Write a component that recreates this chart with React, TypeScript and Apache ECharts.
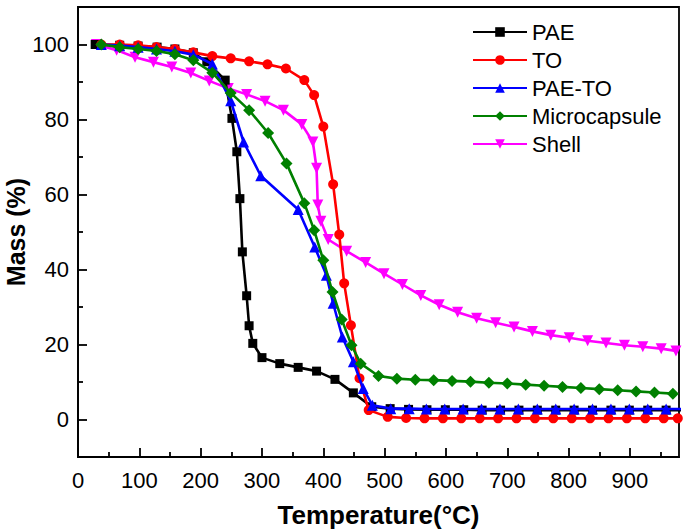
import React, { useEffect, useRef } from "react";
import * as echarts from "echarts";

// ---- data ----
const seriesNames = ["PAE", "TO", "PAE-TO", "Microcapsule", "Shell"];

const paeT = [28, 68, 98, 129, 158, 188, 210, 240, 251, 259, 264, 268, 275, 279, 285, 300, 329, 359, 389, 419, 449, 479, 509, 539, 569, 599, 629, 659, 689, 719, 749, 779, 809, 839, 869, 899, 929, 959, 989];
const paeM = [100, 99.8, 99.6, 99.3, 98.8, 97.8, 95.4, 90.5, 80.3, 71.4, 58.9, 44.7, 33, 25, 20.3, 16.5, 14.9, 13.9, 12.9, 10.7, 7.1, 3.4, 2.9, 2.7, 2.6, 2.6, 2.6, 2.5, 2.5, 2.5, 2.5, 2.5, 2.5, 2.5, 2.5, 2.5, 2.5, 2.5, 2.5];

const toT = [38, 68, 98, 128, 158, 188, 219, 249, 279, 309, 339, 369, 385, 400, 416, 426, 434, 445, 459, 474, 505, 535, 565, 595, 625, 655, 685, 715, 745, 775, 805, 835, 865, 895, 925, 955, 978];
const toM = [100, 100, 99.8, 99.3, 98.8, 97.9, 96.9, 96.3, 95.5, 94.7, 93.6, 90.5, 86.5, 78.1, 62.7, 49.3, 36.3, 25.1, 11, 2.5, 0.7, 0.4, 0.3, 0.3, 0.3, 0.3, 0.3, 0.3, 0.3, 0.3, 0.3, 0.3, 0.3, 0.3, 0.3, 0.3, 0.3];

const paeToT = [38, 68, 98, 128, 158, 188, 219, 249, 270, 298, 359, 386, 405, 416, 431, 449, 465, 480, 510, 540, 568, 598, 628, 658, 688, 718, 749, 779, 809, 839, 869, 899, 929, 959, 989];
const paeToM = [100, 99.7, 99.3, 98.8, 98.2, 97.3, 94.8, 85, 74, 65, 56, 46, 38.5, 31, 22, 15.4, 8.3, 3.8, 2.9, 2.9, 2.8, 2.8, 2.8, 2.8, 2.8, 2.8, 2.8, 2.8, 2.8, 2.8, 2.8, 2.8, 2.8, 2.8, 2.8];

const microT = [38, 68, 98, 128, 158, 188, 219, 249, 279, 310, 340, 369, 385, 400, 415, 430, 446, 461, 490, 520, 550, 580, 610, 640, 670, 700, 730, 760, 790, 820, 850, 880, 910, 940, 970];
const microM = [100, 99.3, 98.8, 98.3, 97.4, 95.8, 92.5, 87.1, 82.5, 76.4, 68.3, 57.7, 50.5, 42.5, 34, 26.7, 19.8, 14.9, 11.6, 10.9, 10.6, 10.5, 10.3, 10.1, 9.8, 9.6, 9.3, 9.0, 8.7, 8.4, 8.1, 7.8, 7.5, 7.2, 6.9];

const shellT = [30, 63, 93, 123, 153, 184, 214, 245, 275, 305, 335, 365, 383, 389, 391, 396, 408, 438, 469, 499, 529, 559, 589, 619, 650, 681, 711, 741, 771, 801, 831, 861, 891, 921, 951, 975];
const shellM = [100, 98.5, 96.6, 95.3, 94, 92.4, 90.3, 88.3, 86.7, 84.9, 82.5, 78.7, 74, 67, 57.2, 52.9, 48, 44.9, 41.9, 38.9, 36, 33.1, 30.6, 28.6, 27, 25.8, 24.7, 23.5, 22.5, 21.8, 21, 20.4, 19.8, 19.4, 18.9, 18.3];

const xMajorTicks = [0, 100, 200, 300, 400, 500, 600, 700, 800, 900];
const xMinorTicks = [50, 150, 250, 350, 450, 550, 650, 750, 850, 950];
const yMajorTicks = [0, 20, 40, 60, 80, 100];
const yMinorTicks = [10, 30, 50, 70, 90];

const FONT = "'Liberation Sans', Arial, sans-serif";
const downTriangle = "path://M0,0L10,0L5,9Z";

function pairs(t: number[], m: number[]) {
  return t.map((v, i) => [v, m[i]]);
}

export default function App() {
  const ref = useRef<HTMLDivElement>(null);
  useEffect(() => {
    const chart = echarts.init(ref.current!, null, { renderer: "svg" });
    const axisLine = { show: true, onZero: false, lineStyle: { color: "#000", width: 1.8 } };
    const line = (name: string, color: string, symbol: string, size: number, data: number[][], z: number) => ({
      name,
      type: "line",
      data,
      symbol,
      symbolSize: size,
      showSymbol: true,
      clip: true,
      z,
      lineStyle: { color, width: 2.6 },
      itemStyle: { color },
    });
    chart.setOption({
      animation: false,
      backgroundColor: "#fff",
      textStyle: { fontFamily: FONT },
      grid: {
        left: 78,
        right: 6,
        top: 7,
        bottom: 75,
        show: true,
        borderColor: "#000",
        borderWidth: 1.8,
        containLabel: false,
        outerBoundsMode: "none",
      },
      legend: {
        data: seriesNames,
        orient: "vertical",
        left: 467,
        top: 16,
        itemWidth: 54,
        itemHeight: 12,
        itemGap: 6,
        textStyle: { fontSize: 22, color: "#000", fontFamily: FONT },
      },
      xAxis: [
        {
          type: "value",
          min: 0,
          max: 980,
          position: "bottom",
          name: "Temperature(°C)",
          nameLocation: "middle",
          nameGap: 45,
          nameMoveOverlap: false,
          nameTextStyle: { fontSize: 26, fontWeight: "bold", color: "#000", fontFamily: FONT },
          axisLine,
          axisTick: { show: true, inside: true, length: 9, customValues: xMajorTicks, lineStyle: { color: "#000", width: 1.8 } },
          axisLabel: { show: true, customValues: xMajorTicks, fontSize: 22, color: "#000", margin: 12, fontFamily: FONT },
          splitLine: { show: false },
        },
        {
          type: "value",
          min: 0,
          max: 980,
          position: "bottom",
          offset: 0,
          axisLine: { show: false, onZero: false },
          axisTick: { show: true, inside: true, length: 5, customValues: xMinorTicks, lineStyle: { color: "#000", width: 1.8 } },
          axisLabel: { show: false },
          splitLine: { show: false },
        },
      ],
      yAxis: [
        {
          type: "value",
          min: -10,
          max: 110,
          position: "left",
          name: "Mass (%)",
          nameLocation: "middle",
          nameGap: 50,
          nameMoveOverlap: false,
          nameTextStyle: { fontSize: 25, fontWeight: "bold", color: "#000", fontFamily: FONT },
          axisLine,
          axisTick: { show: true, inside: true, length: 9, customValues: yMajorTicks, lineStyle: { color: "#000", width: 1.8 } },
          axisLabel: { show: true, customValues: yMajorTicks, fontSize: 22, color: "#000", margin: 9, fontFamily: FONT },
          splitLine: { show: false },
        },
        {
          type: "value",
          min: -10,
          max: 110,
          position: "left",
          offset: 0,
          axisLine: { show: false, onZero: false },
          axisTick: { show: true, inside: true, length: 5, customValues: yMinorTicks, lineStyle: { color: "#000", width: 1.8 } },
          axisLabel: { show: false },
          splitLine: { show: false },
        },
      ],
      series: [
        line("Shell", "#ff00ff", downTriangle, 11, pairs(shellT, shellM), 2),
        line("PAE", "#000000", "rect", 9, pairs(paeT, paeM), 3),
        line("TO", "#ff0000", "circle", 10, pairs(toT, toM), 4),
        line("PAE-TO", "#0000ff", "triangle", 11, pairs(paeToT, paeToM), 5),
        line("Microcapsule", "#008000", "diamond", 12, pairs(microT, microM), 6),
      ],
    });
    return () => chart.dispose();
  }, []);
  return (
    <div
      ref={ref}
      style={{ position: "fixed", left: 0, top: 0, width: 685, height: 532, background: "#fff" }}
    />
  );
}
